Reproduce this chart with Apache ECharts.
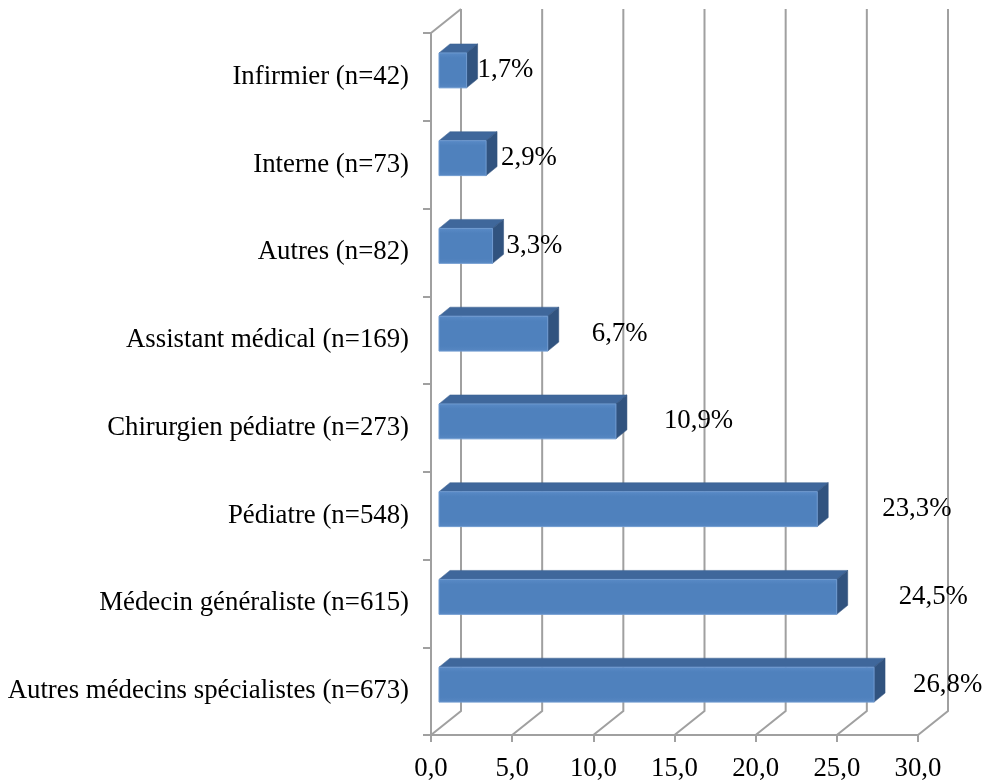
<!DOCTYPE html>
<html>
<head>
<meta charset="utf-8">
<script src="https://cdn.jsdelivr.net/npm/echarts@6/dist/echarts.min.js"></script>
<style>html,body{margin:0;padding:0;background:#fff}#c{width:986px;height:782px}</style>
</head>
<body>
<div id="c"></div>
<script>
// ---- data ----
var categories = [
  'Infirmier (n=42)',
  'Interne (n=73)',
  'Autres (n=82)',
  'Assistant médical (n=169)',
  'Chirurgien pédiatre (n=273)',
  'Pédiatre (n=548)',
  'Médecin généraliste (n=615)',
  'Autres médecins spécialistes (n=673)'
];
var values = [1.7, 2.9, 3.3, 6.7, 10.9, 23.3, 24.5, 26.8];
var xTicks = [0, 5, 10, 15, 20, 25, 30];

// ---- style / layout ----
var FONT = '"Liberation Serif", "Times New Roman", serif';
var FS = 26.8;
var GRID_COLOR = '#a0a0a0';
var DEPTH_X = 30, DEPTH_Y = -24;     // 3D wall depth
var BAR_SHIFT = 8;                    // bar front face offset into depth
var BAR_DX = 11, BAR_DY = -9;         // bar depth
var labelDx = [0, 4, 3, 33, 37, 54, 51, 28]; // label nudges (px)

function fmt(v) { return v.toFixed(1).replace('.', ','); }

var chart = echarts.init(document.getElementById('c'), null, {renderer: 'canvas'});

var option = {
  animation: false,
  backgroundColor: '#fff',
  grid: {left: 431, right: 68, top: 33, bottom: 45, containLabel: false},
  xAxis: {
    type: 'value', min: 0, max: 30, interval: 5,
    axisLine: {show: true, lineStyle: {color: GRID_COLOR, width: 2}},
    axisTick: {show: true, length: 7, lineStyle: {color: GRID_COLOR, width: 2}},
    axisLabel: {formatter: function (v) { return fmt(v); }, fontFamily: FONT, fontSize: FS, color: '#000', margin: 20},
    splitLine: {show: false}
  },
  yAxis: {
    type: 'category', inverse: true, data: categories,
    axisLine: {show: true, lineStyle: {color: GRID_COLOR, width: 2}},
    axisTick: {show: true, length: 8, lineStyle: {color: GRID_COLOR, width: 2}},
    axisLabel: {fontFamily: FONT, fontSize: FS, color: '#000', margin: 22},
    splitLine: {show: false}
  },
  series: [
    {
      type: 'custom',
      silent: true,
      clip: false,
      z: 1,
      data: xTicks.map(function (t) { return [t, 0]; }),
      renderItem: function (params, api) {
        var cs = params.coordSys;
        var x = api.coord([api.value(0), 0])[0];
        var yb = cs.y + cs.height, yt = cs.y;
        var children = [{
          type: 'polyline',
          shape: {points: [[x, yb], [x + DEPTH_X, yb + DEPTH_Y], [x + DEPTH_X, yt + DEPTH_Y]]},
          style: {stroke: GRID_COLOR, lineWidth: 2, fill: null}
        }];
        if (api.value(0) === 0) {
          children.push({
            type: 'line',
            shape: {x1: x, y1: yt, x2: x + DEPTH_X, y2: yt + DEPTH_Y},
            style: {stroke: GRID_COLOR, lineWidth: 2}
          });
        }
        return {type: 'group', children: children};
      }
    },
    {
      type: 'custom',
      silent: true,
      clip: false,
      z: 3,
      data: values.map(function (v, i) { return [v, i]; }),
      renderItem: function (params, api) {
        var v = api.value(0), i = api.value(1);
        var c0 = api.coord([0, i]);
        var c1 = api.coord([v, i]);
        var band = api.size([0, 1])[1];
        var top = c0[1] - band / 2 + 0.227 * band;
        var h = 0.398 * band;
        var bot = top + h;
        var x0 = c0[0] + BAR_SHIFT, x1 = c1[0] + BAR_SHIFT;
        return {
          type: 'group',
          children: [
            {
              type: 'polygon',
              shape: {points: [[x0, top], [x1, top], [x1 + BAR_DX, top + BAR_DY], [x0 + BAR_DX, top + BAR_DY]]},
              style: {fill: '#3f679b', stroke: '#3a6090', lineWidth: 0.5}
            },
            {
              type: 'polygon',
              shape: {points: [[x1, top], [x1 + BAR_DX, top + BAR_DY], [x1 + BAR_DX, bot + BAR_DY], [x1, bot]]},
              style: {fill: '#31537f', stroke: '#2e4f7a', lineWidth: 0.5}
            },
            {
              type: 'rect',
              shape: {x: x0, y: top, width: x1 - x0, height: h},
              style: {
                fill: new echarts.graphic.LinearGradient(0, 0, 0, 1, [
                  {offset: 0, color: '#5a8bc7'},
                  {offset: 0.15, color: '#4f81bd'},
                  {offset: 0.85, color: '#4f81bd'},
                  {offset: 1, color: '#5888c3'}
                ]),
                stroke: '#6f9ad0', lineWidth: 1
              }
            },
            {
              type: 'text',
              x: x1 + BAR_DX + labelDx[i],
              y: top + h / 2,
              style: {
                text: fmt(v) + '%',
                font: FS + 'px ' + FONT,
                fill: '#000',
                align: 'left',
                verticalAlign: 'middle'
              }
            }
          ]
        };
      }
    }
  ]
};
chart.setOption(option);
</script>
</body>
</html>
